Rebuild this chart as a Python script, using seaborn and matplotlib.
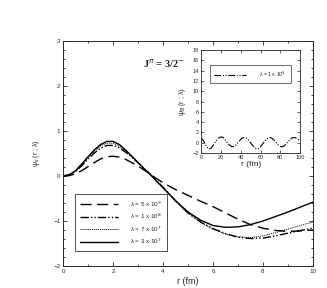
import matplotlib
matplotlib.use("Agg")
import matplotlib.pyplot as plt
import seaborn as sns
from matplotlib.ticker import MultipleLocator

sns.set_style("ticks")
plt.rcParams['font.family'] = ['Liberation Sans', 'DejaVu Sans']

# ---- data ----
r_main = [0, 0.25, 0.5, 0.75, 1, 1.25, 1.5, 1.75, 2, 2.25, 2.5, 2.75, 3, 3.25, 3.5, 3.75, 4,
          4.5, 5, 5.5, 6, 6.5, 7, 7.5, 8, 8.5, 9, 9.5, 10]
psi_5e9 = [0, 0.01, 0.05, 0.12, 0.21, 0.30, 0.38, 0.43, 0.44, 0.42, 0.37, 0.30, 0.22, 0.13, 0.04, -0.06, -0.15,
           -0.30, -0.43, -0.56, -0.68, -0.82, -0.96, -1.08, -1.16, -1.21, -1.23, -1.22, -1.20]
psi_1e8 = [0, 0.03, 0.10, 0.23, 0.38, 0.51, 0.62, 0.68, 0.68, 0.63, 0.53, 0.42, 0.29, 0.16, 0.03, -0.11, -0.25,
           -0.55, -0.82, -1.02, -1.17, -1.28, -1.36, -1.39, -1.38, -1.33, -1.27, -1.21, -1.16]
psi_7e7 = [0, 0.03, 0.11, 0.25, 0.41, 0.55, 0.67, 0.73, 0.73, 0.67, 0.56, 0.43, 0.30, 0.16, 0.03, -0.12, -0.26,
           -0.56, -0.83, -1.03, -1.18, -1.29, -1.35, -1.37, -1.33, -1.26, -1.18, -1.10, -1.02]
psi_3e7 = [0, 0.03, 0.12, 0.27, 0.43, 0.58, 0.70, 0.77, 0.77, 0.70, 0.58, 0.44, 0.30, 0.16, 0.03, -0.12, -0.26,
           -0.55, -0.80, -0.98, -1.10, -1.14, -1.13, -1.08, -1.00, -0.90, -0.80, -0.69, -0.58]

r_inset = list(range(0, 101, 2))
psi_inset = [0.9, 0.5, -0.2, -0.9, -1.2, -1.1, -0.6, 0.0, 0.55, 0.95, 1.1, 1.05, 0.7, 0.15, -0.35, -0.7,
             -0.8, -0.65, -0.3, 0.2, 0.65, 0.95, 1.0, 0.85, 0.45, -0.05, -0.55, -0.95, -1.2, -1.15, -0.8,
             -0.3, 0.25, 0.7, 0.95, 1.0, 0.8, 0.4, -0.05, -0.45, -0.75, -0.8, -0.6, -0.2, 0.25, 0.65,
             0.95, 1.0, 0.9, 0.65, 0.4]

labels = ["λ = 5 x 10$^{9}$", "λ = 1 x 10$^{8}$", "λ = 7 x 10$^{7}$", "λ = 3 x 10$^{7}$"]
inset_label = "λ = 1 x 10$^{8}$"

fig = plt.figure(figsize=(3.27, 2.88), dpi=100)
ax = fig.add_axes([0.193, 0.0764, 0.764, 0.781])

styles = [(0, (8, 4)), (0, (6, 1.5, 1, 1.5, 1, 1.5)), (0, (1, 1)), '-']
widths = [1.0, 1.0, 0.7, 1.0]
for ys, lab, ls, lw in zip([psi_5e9, psi_1e8, psi_7e7, psi_3e7], labels, styles, widths):
    sns.lineplot(x=r_main, y=ys, ax=ax, color='black', linestyle=ls, linewidth=lw, label=lab)

ax.set_xlim(0, 10)
ax.set_ylim(-2, 3)
ax.xaxis.set_major_locator(MultipleLocator(2))
ax.xaxis.set_minor_locator(MultipleLocator(1))
ax.yaxis.set_major_locator(MultipleLocator(1))
ax.yaxis.set_minor_locator(MultipleLocator(0.2))
ax.tick_params(which='both', direction='in', top=True, right=True, labelsize=4.5, width=0.6, pad=2)
ax.tick_params(which='major', length=3)
ax.tick_params(which='minor', length=1.5)
for s in ax.spines.values():
    s.set_linewidth(0.7)
ax.set_xlabel("r (fm)", fontsize=6.5, labelpad=2)
ax.set_ylabel("ψ$_{s}$ (r ; λ)", fontsize=5, labelpad=8)
leg = ax.legend(loc='lower left', bbox_to_anchor=(0.036, 0.053), fontsize=4.5, frameon=True,
                fancybox=False, edgecolor='black', handlelength=6, borderpad=0.8, labelspacing=0.5,
                handletextpad=2.0)
leg.get_frame().set_linewidth(0.6)
ax.text(0.32, 0.9, "J$^{\\pi}$ = 3/2$^{-}$", transform=ax.transAxes, fontsize=7.5,
        fontweight='bold', family=['Liberation Serif', 'DejaVu Serif'], va='center')

axi = fig.add_axes([0.615, 0.469, 0.303, 0.357])
sns.lineplot(x=r_inset, y=psi_inset, ax=axi, color='black', linestyle=(0, (6, 1.5, 1, 1.5, 1, 1.5)),
             linewidth=0.8, label=inset_label)
axi.set_xlim(0, 100)
axi.set_ylim(-2, 18)
axi.xaxis.set_major_locator(MultipleLocator(20))
axi.yaxis.set_major_locator(MultipleLocator(2))
axi.tick_params(which='both', direction='in', top=True, right=True, labelsize=4, width=0.5, length=2, pad=1.5)
for s in axi.spines.values():
    s.set_linewidth(0.6)
axi.set_xlabel("r (fm)", fontsize=6, labelpad=1)
axi.set_ylabel("ψ$_{B}$ (r ; λ)", fontsize=5, labelpad=3)
li = axi.legend(loc='upper right', bbox_to_anchor=(0.93, 0.88), fontsize=3.8, frameon=True,
                fancybox=False, edgecolor='black', handlelength=6, borderpad=0.8, handletextpad=2.5)
li.get_frame().set_linewidth(0.5)

fig.savefig("out.png", dpi=100)
